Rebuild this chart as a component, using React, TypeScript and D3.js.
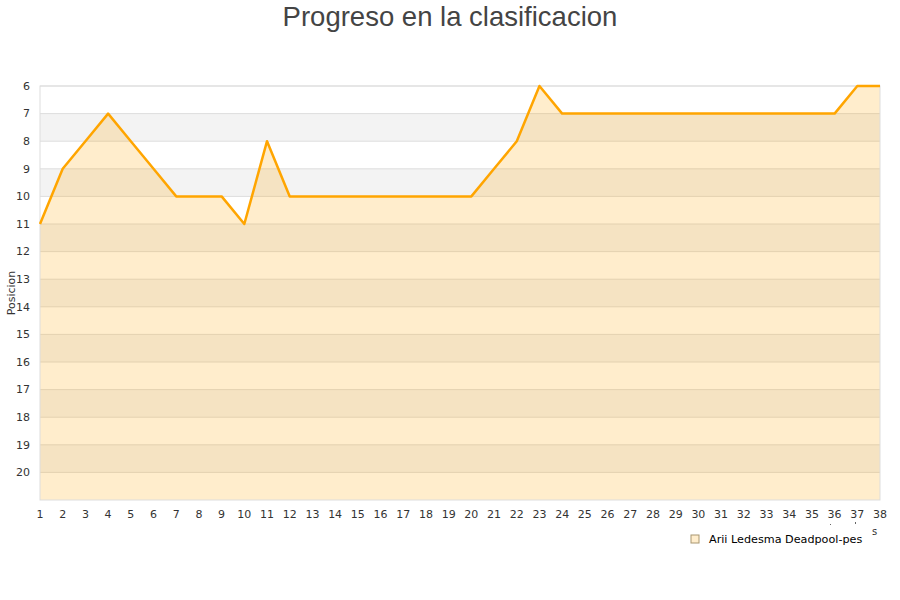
import React from 'react';
import * as d3 from 'd3';

const jornadas = d3.range(1, 39);
const posiciones = [11, 9, 8, 7, 8, 9, 10, 10, 10, 11, 8, 10, 10, 10, 10, 10, 10, 10, 10, 10, 9, 8, 6, 7, 7, 7, 7, 7, 7, 7, 7, 7, 7, 7, 7, 7, 6, 6];
const yTicks = d3.range(6, 21);
const serie = 'Arii Ledesma Deadpool-pes';

const width = 900;
const height = 600;
const margin = { top: 86, right: 20, bottom: 100, left: 40 };

const App: React.FC = () => {
	const x = d3.scaleLinear().domain([1, 38]).range([margin.left, width - margin.right]);
	const y = d3.scaleLinear().domain([6, 21]).range([margin.top, height - margin.bottom]);

	const data = jornadas.map((j, i) => ({ j, p: posiciones[i] }));

	const line = d3.line<{ j: number; p: number }>()
		.x(d => x(d.j))
		.y(d => y(d.p));

	const area = d3.area<{ j: number; p: number }>()
		.x(d => x(d.j))
		.y0(y(21))
		.y1(d => y(d.p));

	const bands = d3.range(7, 21, 2); // gray bands 7-8, 9-10 ...

	return (
		<svg width={width} height={height} style={{ position: 'absolute', left: 0, top: 0 }}>
			<rect width={width} height={height} fill="#fff" />
			<text x={450} y={26} textAnchor="middle" fontFamily="Liberation Sans, Arial, sans-serif" fontSize={27.5} fill="#444">
				Progreso en la clasificacion
			</text>

			{bands.map(b => (
				<rect key={b} x={x(1)} y={y(b)} width={x(38) - x(1)} height={y(b + 1) - y(b)} fill="#f3f3f3" />
			))}
			{yTicks.map(t => (
				<line key={t} x1={x(1)} x2={x(38)} y1={y(t)} y2={y(t)} stroke="#ddd" strokeWidth={1} />
			))}

			<path d={area(data) ?? ''} fill="rgba(255,165,0,0.2)" />
			<rect x={x(1)} y={y(6)} width={x(38) - x(1)} height={y(21) - y(6)} fill="none" stroke="#ddd" strokeWidth={1} />
			<path d={line(data) ?? ''} fill="none" stroke="#ffa500" strokeWidth={2.5} strokeLinejoin="round" />

			<g fontFamily="DejaVu Sans, sans-serif" fontSize={11} fill="#333">
				{yTicks.map(t => (
					<text key={t} x={30} y={y(t)} dy="0.35em" textAnchor="end">{t}</text>
				))}
				{jornadas.map(j => (
					<text key={j} x={x(j)} y={518} textAnchor="middle">{j}</text>
				))}
				<text transform={`translate(15,${(y(6) + y(21)) / 2}) rotate(-90)`} textAnchor="middle">Posicion</text>
				<text x={872} y={535} fontSize={10}>s</text>
			</g>
			{/* stray marks under the last ticks */}
			<rect x={830} y={524} width={1} height={1} fill="#666" />
			<rect x={855} y={522} width={1} height={2} fill="#666" />

			<g transform="translate(691,535)">
				<rect width={8} height={8} fill="#ffedcc" stroke="#a89670" strokeWidth={1} />
				<text x={18} y={8} fontFamily="DejaVu Sans, sans-serif" fontSize={11.2} fill="#000">{serie}</text>
			</g>
		</svg>
	);
};

export default App;
